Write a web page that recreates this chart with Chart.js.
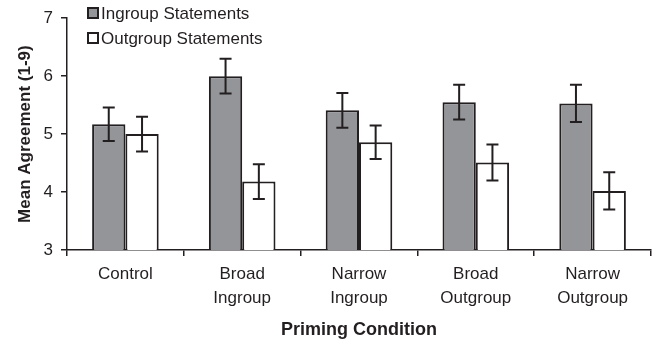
<!DOCTYPE html>
<html>
<head>
<meta charset="utf-8">
<script src="https://cdn.jsdelivr.net/npm/chart.js@4/dist/chart.umd.min.js"></script>
<style>
  html, body { margin: 0; padding: 0; background: #fff; }
  #wrap { width: 655px; height: 345px; }
</style>
</head>
<body>
<div id="wrap"><canvas id="chart" width="655" height="345"></canvas></div>
<script>
// priming conditions
var categories = ['Control', ['Broad', 'Ingroup'], ['Narrow', 'Ingroup'], ['Broad', 'Outgroup'], ['Narrow', 'Outgroup']];

// mean agreement
var ingroupMeans = [5.17, 6.00, 5.41, 5.55, 5.53];
var ingroupErr   = [0.29, 0.30, 0.30, 0.30, 0.32];
var outgroupMeans = [5.00, 4.18, 4.86, 4.51, 4.02];
var outgroupErr   = [0.30, 0.30, 0.29, 0.31, 0.32];

var yTicks = [3, 4, 5, 6, 7];

var ink = '#231f20';
var grey = '#939598';
var font = 'Liberation Sans, Arial, Helvetica, sans-serif';

// error bars drawn through the y scale
var errorBars = {
  id: 'errorBars',
  afterDatasetsDraw: function(chart) {
    var ctx = chart.ctx;
    var y = chart.scales.y;
    ctx.save();
    ctx.strokeStyle = ink;
    ctx.lineWidth = 2;
    chart.data.datasets.forEach(function(ds, di) {
      var meta = chart.getDatasetMeta(di);
      meta.data.forEach(function(bar, i) {
        var v = ds.data[i], e = ds.errors[i];
        var top = y.getPixelForValue(v + e);
        var bot = y.getPixelForValue(v - e);
        ctx.beginPath();
        ctx.moveTo(bar.x, top); ctx.lineTo(bar.x, bot);
        ctx.moveTo(bar.x - 6, top); ctx.lineTo(bar.x + 6, top);
        ctx.moveTo(bar.x - 6, bot); ctx.lineTo(bar.x + 6, bot);
        ctx.stroke();
      });
    });
    ctx.restore();
  }
};

// legend in the upper left, inside the plot
var boxLegend = {
  id: 'boxLegend',
  afterDraw: function(chart) {
    var ctx = chart.ctx;
    ctx.save();
    ctx.font = '17px ' + font;
    ctx.textBaseline = 'middle';
    chart.data.datasets.forEach(function(ds, i) {
      var cy = 13 + i * 25;
      ctx.fillStyle = ds.backgroundColor;
      ctx.fillRect(88, cy - 5, 10, 10);
      ctx.strokeStyle = ink;
      ctx.lineWidth = 2;
      ctx.strokeRect(88, cy - 5, 10, 10);
      ctx.fillStyle = ink;
      ctx.fillText(ds.label, 101, cy + 1);
    });
    ctx.restore();
  }
};

new Chart(document.getElementById('chart'), {
  type: 'bar',
  data: {
    labels: categories,
    datasets: [{
      label: 'Ingroup Statements',
      data: ingroupMeans,
      errors: ingroupErr,
      backgroundColor: grey,
      borderColor: ink,
      borderWidth: 2
    }, {
      label: 'Outgroup Statements',
      data: outgroupMeans,
      errors: outgroupErr,
      backgroundColor: '#ffffff',
      borderColor: ink,
      borderWidth: 2
    }]
  },
  options: {
    responsive: false,
    animation: false,
    layout: { padding: { top: 13, right: 4, left: 0, bottom: 0 } },
    datasets: { bar: { categoryPercentage: 0.57, barPercentage: 1.0 } },
    plugins: {
      legend: { display: false },
      tooltip: { enabled: false }
    },
    scales: {
      x: {
        afterFit: function(s) { s.height = 95; },
        grid: { offset: true, drawOnChartArea: false, tickLength: 6, color: ink, lineWidth: 1.5 },
        border: { color: ink, width: 1.5 },
        ticks: { color: ink, padding: 6, font: { family: font, size: 17, lineHeight: 1.42 }, maxRotation: 0, autoSkip: false },
        title: {
          display: true, text: 'Priming Condition', color: ink,
          font: { family: font, size: 18, weight: 'bold' },
          padding: { top: 0, bottom: 4 }
        }
      },
      y: {
        min: 3, max: 7,
        afterFit: function(s) { s.width = 67; },
        afterBuildTicks: function(s) { s.ticks = yTicks.map(function(v) { return { value: v }; }); },
        grid: { drawOnChartArea: false, tickLength: 6, color: ink, lineWidth: 1.5 },
        border: { color: ink, width: 1.5 },
        ticks: { color: ink, padding: 8, font: { family: font, size: 17 } },
        title: {
          display: true, text: 'Mean Agreement (1-9)', color: ink,
          font: { family: font, size: 17, weight: 'bold' },
          padding: { top: 15, bottom: 0 }
        }
      }
    }
  },
  plugins: [errorBars, boxLegend]
});
</script>
</body>
</html>
